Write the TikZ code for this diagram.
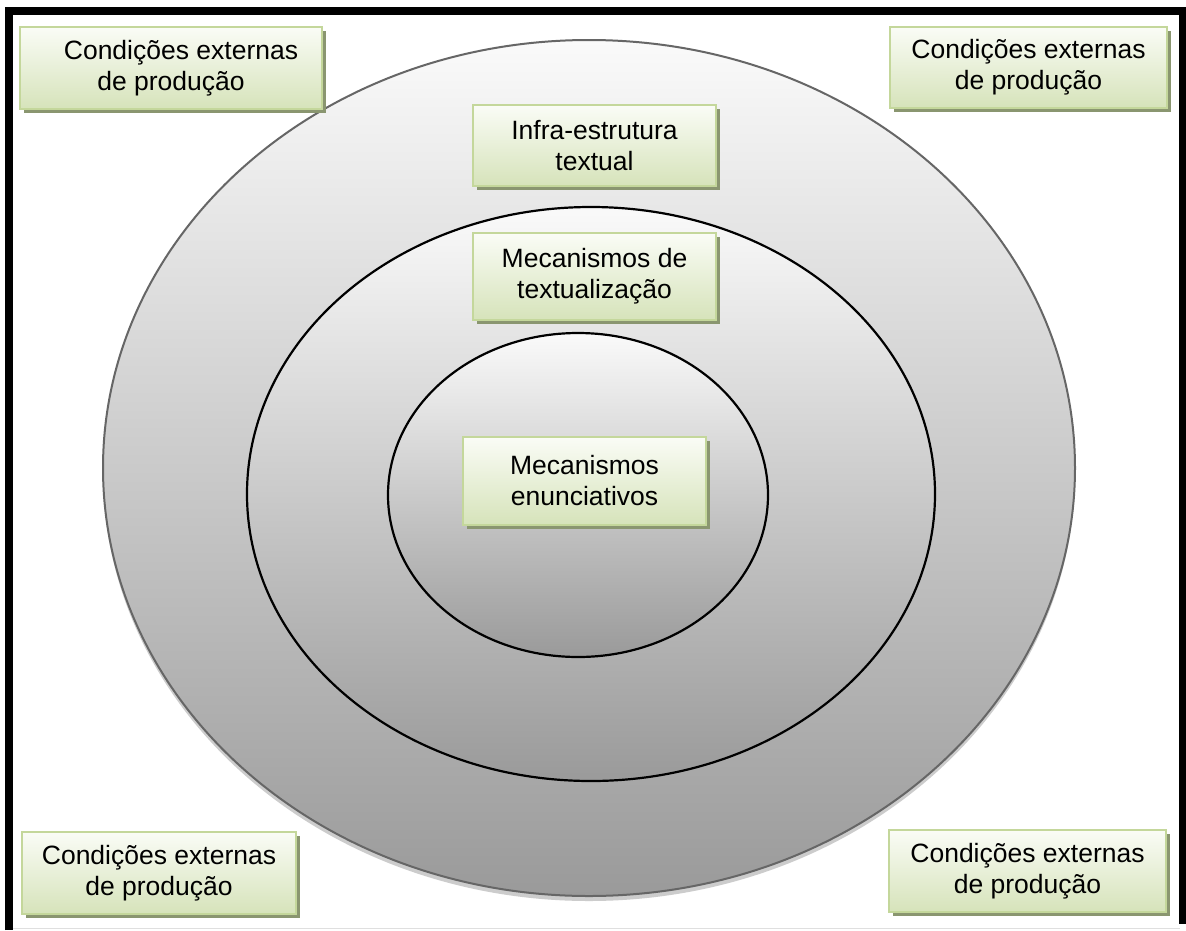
\documentclass[tikz,border=0pt]{standalone}
\usepackage{fontspec}
\setmainfont{Liberation Sans}
\usetikzlibrary{shadows}
\definecolor{boxborder}{RGB}{196,215,155}
\definecolor{boxbottom}{RGB}{214,227,186}
\definecolor{boxtop}{RGB}{250,252,246}
\definecolor{boxshadow}{RGB}{138,150,112}
\definecolor{ringtop}{RGB}{250,250,250}
\definecolor{ringbottom}{RGB}{154,154,154}
\tikzset{
  labelbox/.style={draw=boxborder, line width=1.6pt, top color=boxtop, bottom color=boxbottom,
    align=center, font=\fontsize{26.5}{31}\selectfont, inner sep=0pt,
    drop shadow={shadow xshift=3.5pt, shadow yshift=-3.5pt, fill=boxshadow, opacity=1}},
  ring/.style={draw=black, line width=2.2pt, top color=ringtop, bottom color=ringbottom}
}
\begin{document}
\begin{tikzpicture}[x=1pt,y=-1pt]
\useasboundingbox (0,0) rectangle (1186,930);
\fill[white] (0,0) rectangle (1186,930);
% frame
\draw[gray!25, line width=1.2pt] (12,928.5) -- (1180,928.5);
\draw[black, line width=7.5pt] (9,930) -- (9,11) -- (1182.5,11) -- (1182.5,924);
% outer ellipse shadow
\fill[gray!40] (589,473) ellipse [x radius=486, y radius=428];
% rings
\draw[ring, draw=black!60, line width=2pt] (589,468) ellipse [x radius=486, y radius=428];
\draw[ring] (591,494) ellipse [x radius=344, y radius=287];
\draw[ring] (578,495) ellipse [x radius=190, y radius=162];
% boxes
\node[labelbox, minimum width=302pt, minimum height=82pt] (tl) at (171,68) {\hspace*{20pt}Condições externas\\de produção};
\node[labelbox, minimum width=277pt, minimum height=81pt] (tr) at (1028.5,67.5) {Condições externas\\de produção};
\node[labelbox, minimum width=243pt, minimum height=81pt] (infra) at (594.5,145.5) {Infra-estrutura\\textual};
\node[labelbox, minimum width=243pt, minimum height=87pt] (textual) at (594.5,276.5) {Mecanismos de\\textualização};
\node[labelbox, minimum width=243pt, minimum height=88pt] (enun) at (584.5,481) {Mecanismos\\enunciativos};
\node[labelbox, minimum width=274pt, minimum height=82pt] (bl) at (159,873) {Condições externas\\de produção};
\node[labelbox, minimum width=277pt, minimum height=82pt] (br) at (1027.5,871) {Condições externas\\de produção};
\end{tikzpicture}
\end{document}
